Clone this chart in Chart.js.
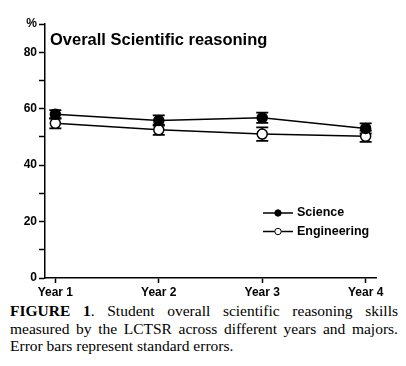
<!DOCTYPE html>
<html>
<head>
<meta charset="utf-8">
<script src="https://cdn.jsdelivr.net/npm/chart.js@4"></script>
<style>
  body { margin: 0; background: #fff; }
  #wrap { width: 406px; height: 300px; }
  .caption {
    font-family: "Liberation Serif", "Times New Roman", serif;
    font-size: 15.5px;
    line-height: 17.5px;
    padding: 2px 8px 0 10px;
    color: #000;
  }
  .caption .j { text-align: justify; text-align-last: justify; }
</style>
</head>
<body>
<div id="wrap"><canvas id="chart" width="406" height="300"></canvas></div>
<div class="caption">
  <div class="j"><b>FIGURE 1</b>. Student overall scientific reasoning skills</div>
  <div class="j">measured by the LCTSR across different years and majors.</div>
  <div>Error bars represent standard errors.</div>
</div>
<script>
const years = ["Year 1", "Year 2", "Year 3", "Year 4"];
const science = [58, 55.8, 56.8, 53];
const scienceErr = [1.5, 1.8, 1.8, 1.8];
const engineering = [54.8, 52.5, 51, 50.2];
const engineeringErr = [1.8, 1.8, 2.4, 2.0];
const chartTitle = "Overall Scientific reasoning";

const sans = "'Liberation Sans', Arial, sans-serif";

const errorBars = {
  id: "errorBars",
  beforeDatasetsDraw(chart) {
    const ctx = chart.ctx;
    const x = chart.scales.x, y = chart.scales.y;
    const sets = [[science, scienceErr], [engineering, engineeringErr]];
    ctx.save();
    ctx.strokeStyle = "#000";
    ctx.lineWidth = 1.8;
    sets.forEach(([vals, errs]) => {
      vals.forEach((v, i) => {
        const px = x.getPixelForValue(i);
        const top = y.getPixelForValue(v + errs[i]);
        const bot = y.getPixelForValue(v - errs[i]);
        ctx.beginPath();
        ctx.moveTo(px, top); ctx.lineTo(px, bot);
        ctx.moveTo(px - 6, top); ctx.lineTo(px + 6, top);
        ctx.moveTo(px - 6, bot); ctx.lineTo(px + 6, bot);
        ctx.stroke();
      });
    });
    ctx.restore();
  }
};

const overlay = {
  id: "overlay",
  afterDraw(chart) {
    const ctx = chart.ctx;
    ctx.save();
    ctx.fillStyle = "#000";
    ctx.textBaseline = "middle";
    ctx.font = "bold 16.5px " + sans;
    ctx.fillText(chartTitle, 50, 40);

    // legend
    const items = [["Science", "#000"], ["Engineering", "#fff"]];
    items.forEach(([label, fill], k) => {
      const ly = 213 + k * 18.5;
      ctx.strokeStyle = "#000";
      ctx.lineWidth = 1.5;
      ctx.beginPath();
      ctx.moveTo(263, ly); ctx.lineTo(293, ly);
      ctx.stroke();
      ctx.beginPath();
      ctx.arc(278, ly, 3.2, 0, Math.PI * 2);
      ctx.fillStyle = fill;
      ctx.fill();
      ctx.lineWidth = 1;
      ctx.stroke();
      ctx.fillStyle = "#000";
      ctx.font = "bold 12.5px " + sans;
      ctx.fillText(label, 297, ly);
    });
    ctx.restore();
  }
};

const ctx = document.getElementById("chart").getContext("2d");
new Chart(ctx, {
  type: "line",
  data: {
    datasets: [
      {
        label: "Science",
        data: science.map((v, i) => ({ x: i, y: v })),
        borderColor: "#000",
        borderWidth: 1.5,
        pointRadius: 5,
        pointBackgroundColor: "#000",
        pointBorderColor: "#000",
        pointBorderWidth: 1.5
      },
      {
        label: "Engineering",
        data: engineering.map((v, i) => ({ x: i, y: v })),
        borderColor: "#000",
        borderWidth: 1.5,
        pointRadius: 5,
        pointBackgroundColor: "#fff",
        pointBorderColor: "#000",
        pointBorderWidth: 1.5
      }
    ]
  },
  options: {
    responsive: false,
    animation: false,
    layout: { padding: { top: 24, right: 30, left: 0, bottom: 0 } },
    plugins: { legend: { display: false }, tooltip: { enabled: false } },
    scales: {
      x: {
        type: "linear",
        min: -0.1,
        max: 3.1,
        afterBuildTicks: s => { s.ticks = years.map((_, i) => ({ value: i })); },
        afterFit: s => { s.height = 22; },
        ticks: {
          callback: v => years[v],
          color: "#000",
          font: { family: sans, size: 12, weight: "bold" },
          padding: 2,
          maxRotation: 0
        },
        grid: { drawOnChartArea: false, tickLength: 5, color: "#000", tickWidth: 1.5 },
        border: { color: "#000", width: 1.5 }
      },
      y: {
        min: 0,
        max: 90,
        afterFit: s => { s.width = 45; },
        ticks: {
          stepSize: 10,
          callback: v => v === 90 ? "%" : (v % 20 === 0 ? v : ""),
          color: "#000",
          font: { family: sans, size: 12, weight: "bold" },
          padding: 2
        },
        grid: { drawOnChartArea: false, tickLength: 6, color: "#000", tickWidth: 1.5 },
        border: { color: "#000", width: 1.5 }
      }
    }
  },
  plugins: [errorBars, overlay]
});
</script>
</body>
</html>
